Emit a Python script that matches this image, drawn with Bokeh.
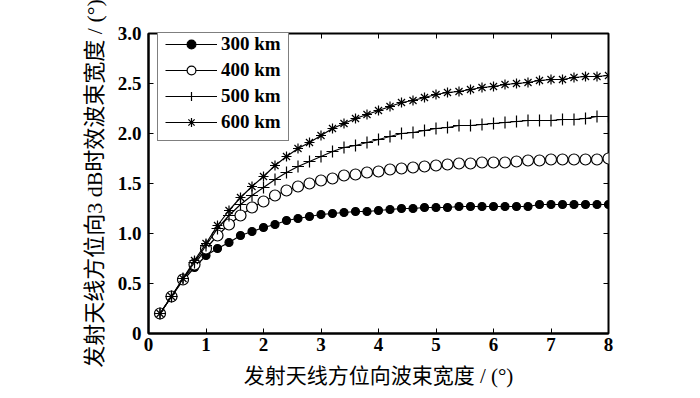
from bokeh.plotting import figure
from bokeh.models import (Range1d, LinearAxis, FixedTicker, Legend, LegendItem,
                          PrintfTickFormatter)
from bokeh.embed import file_html
from bokeh.resources import INLINE

x = [0.2, 0.4, 0.6, 0.8, 1.0, 1.2, 1.4, 1.6, 1.8, 2.0,
     2.2, 2.4, 2.6, 2.8, 3.0, 3.2, 3.4, 3.6, 3.8, 4.0,
     4.2, 4.4, 4.6, 4.8, 5.0, 5.2, 5.4, 5.6, 5.8, 6.0,
     6.2, 6.4, 6.6, 6.8, 7.0, 7.2, 7.4, 7.6, 7.8, 8.0]

y300 = [0.20, 0.37, 0.53, 0.66, 0.78, 0.85, 0.91, 0.98, 1.02, 1.06,
        1.09, 1.13, 1.15, 1.17, 1.19, 1.20, 1.21, 1.22, 1.22, 1.23,
        1.24, 1.25, 1.25, 1.26, 1.26, 1.26, 1.27, 1.27, 1.27, 1.27,
        1.27, 1.27, 1.27, 1.29, 1.29, 1.29, 1.29, 1.29, 1.29, 1.29]

y400 = [0.20, 0.37, 0.54, 0.69, 0.85, 0.98, 1.09, 1.18, 1.26, 1.32,
        1.38, 1.43, 1.47, 1.50, 1.53, 1.55, 1.58, 1.59, 1.61, 1.62,
        1.64, 1.65, 1.66, 1.67, 1.68, 1.69, 1.70, 1.70, 1.71, 1.71,
        1.71, 1.72, 1.73, 1.73, 1.74, 1.74, 1.74, 1.74, 1.74, 1.75]

y500 = [0.20, 0.37, 0.55, 0.71, 0.88, 1.05, 1.18, 1.29, 1.38, 1.46,
        1.54, 1.61, 1.67, 1.72, 1.77, 1.82, 1.86, 1.88, 1.91, 1.94,
        1.97, 2.00, 2.01, 2.03, 2.05, 2.06, 2.08, 2.08, 2.09, 2.10,
        2.11, 2.12, 2.13, 2.13, 2.13, 2.14, 2.14, 2.15, 2.17, 2.17]

y600 = [0.20, 0.37, 0.55, 0.73, 0.90, 1.08, 1.23, 1.36, 1.47, 1.57,
        1.68, 1.77, 1.85, 1.91, 1.98, 2.05, 2.10, 2.15, 2.19, 2.23,
        2.27, 2.31, 2.33, 2.36, 2.39, 2.41, 2.42, 2.44, 2.46, 2.47,
        2.49, 2.50, 2.51, 2.53, 2.54, 2.54, 2.56, 2.57, 2.57, 2.58]

labels = ["300 km", "400 km", "500 km", "600 km"]
x_ticks = [0, 1, 2, 3, 4, 5, 6, 7, 8]
y_ticks = [0, 0.5, 1.0, 1.5, 2.0, 2.5, 3.0]

xlabel = "发射天线方位向波束宽度 / (°)"
ylabel = "发射天线方位向3 dB时效波束宽度 / (°)"

NUM_FONT = "Liberation Serif"
LBL_FONT = "'Liberation Serif', 'Noto Sans CJK SC'"

p = figure(width=692, height=390, output_backend="svg", toolbar_location=None,
           x_range=Range1d(0, 8), y_range=Range1d(0, 3),
           min_border_left=148, min_border_right=84,
           min_border_top=33, min_border_bottom=52)
p.xgrid.visible = False
p.ygrid.visible = False
p.outline_line_color = "black"
p.outline_line_width = 2
p.background_fill_color = "white"
p.border_fill_color = "white"

p.xaxis.ticker = FixedTicker(ticks=x_ticks)
p.yaxis.ticker = FixedTicker(ticks=y_ticks)
p.yaxis.formatter = PrintfTickFormatter(format="%.1f")
p.yaxis.major_label_overrides = {0: "0"}

for ax in (p.xaxis[0], p.yaxis[0]):
    ax.major_tick_in = 5
    ax.major_tick_out = 0
    ax.minor_tick_in = 0
    ax.minor_tick_out = 0
    ax.axis_line_width = 2
    ax.major_tick_line_width = 1
    ax.major_label_text_font = NUM_FONT
    ax.major_label_text_font_style = "bold"
    ax.major_label_text_font_size = "19px"
    ax.major_label_text_color = "black"
    ax.axis_label_text_font = LBL_FONT
    ax.axis_label_text_font_style = "normal"
    ax.axis_label_text_color = "black"

p.xaxis.axis_label = xlabel
p.yaxis.axis_label = ylabel
p.xaxis.axis_label_text_font_size = "21px"
p.yaxis.axis_label_text_font_size = "22px"
p.xaxis.major_label_standoff = 4
p.xaxis.axis_label_standoff = 10
p.yaxis.major_label_standoff = 7
p.yaxis.axis_label_standoff = 8

top = LinearAxis(ticker=FixedTicker(ticks=x_ticks), major_tick_in=5, major_tick_out=0,
                 minor_tick_in=0, minor_tick_out=0, axis_line_color=None,
                 major_label_text_font_size="1px", major_label_text_alpha=0,
                 major_label_standoff=0)
right = LinearAxis(ticker=FixedTicker(ticks=y_ticks), major_tick_in=5, major_tick_out=0,
                   minor_tick_in=0, minor_tick_out=0, axis_line_color=None,
                   major_label_text_font_size="1px", major_label_text_alpha=0,
                   major_label_standoff=0)
p.add_layout(top, "above")
p.add_layout(right, "right")

items = []
series = [y300, y400, y500, y600]
markers = ["circle", "circle", "cross", "asterisk"]
sizes = [8, 11, 12, 10]
fills = ["black", "white", None, None]
for ys, lab, mk, sz, fc in zip(series, labels, markers, sizes, fills):
    ln = p.line(x, ys, line_color="black", line_width=1.2)
    if fc is None:
        sc = p.scatter(x, ys, marker=mk, size=sz, line_color="black", line_width=1.2)
    else:
        sc = p.scatter(x, ys, marker=mk, size=sz, line_color="black", fill_color=fc,
                       line_width=1.2)
    items.append(LegendItem(label=lab, renderers=[ln, sc]))

legend = Legend(items=items, location=(9, 192), orientation="vertical",
                glyph_width=52, glyph_height=22, label_height=22, spacing=4,
                padding=7, margin=0, label_standoff=4,
                label_text_font=NUM_FONT, label_text_font_style="bold",
                label_text_font_size="19px", label_text_color="black",
                border_line_color="black", border_line_width=1,
                background_fill_color="white", background_fill_alpha=1)
p.add_layout(legend, "center")

open("out.html", "w").write(file_html(p, INLINE))
